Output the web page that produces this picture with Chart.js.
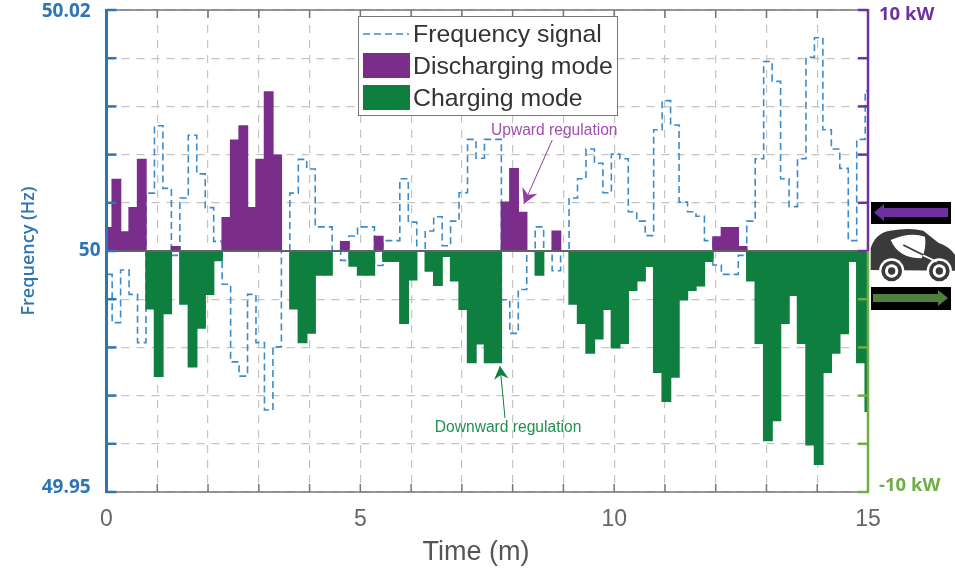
<!DOCTYPE html>
<html>
<head>
<meta charset="utf-8">
<title>Frequency regulation</title>
<script src="https://cdn.jsdelivr.net/npm/chart.js@4"></script>
<style>
  html, body { margin: 0; padding: 0; background: #fff; }
  canvas { display: block; }
</style>
</head>
<body>
<canvas id="myChart" width="955" height="569"></canvas>
<script>
// samples are 10 s apart, first one sits just right of zero
var firstSample = 0.028;
var sampleStep = 1 / 6;

// kW
var discharging = [
  0.97, 2.97, 0.79, 1.8, 3.8, 0, 0, 0, 0.18, 0,
  0, 0, 0, 0, 1.38, 4.6, 5.19, 1.8, 3.8, 6.6,
  3.98, 0, 0, 0, 0, 0, 0, 0, 0.39, 0,
  0, 0, 0.6, 0, 0, 0, 0, 0, 0, 0,
  0, 0, 0, 0, 0, 0, 0, 2.02, 3.42, 1.6,
  0, 0, 0, 0.82, 0, 0, 0, 0, 0, 0,
  0, 0, 0, 0, 0, 0, 0, 0, 0, 0,
  0, 0, 0.58, 0.97, 0.97, 0.18, 0, 0, 0, 0,
  0, 0, 0, 0, 0, 0, 0, 0, 0, 0,
  0
];

// kW
var charging = [
  0, 0, 0, 0, 0, -2.4, -5.2, -2.6, 0, -2.2,
  -4.8, -3.2, -1.8, -0.4, 0, 0, 0, 0, 0, 0,
  0, 0, -2.4, -3.8, -3.4, -1, -1, 0, 0, -0.62,
  -1, -1, 0, -0.43, -0.43, -3, -1.2, 0, -0.83, -1.42,
  -0.22, -1.24, -2.42, -4.63, -3.85, -4.63, -4.63, 0, 0, 0,
  0, -1, 0, 0, 0, -2.2, -3, -4.23, -3.64, -2.42,
  -4.02, -3.83, -1.63, -1.24, -0.64, -5.03, -6.24, -5.23, -2.03, -1.63,
  -1.44, -0.43, 0, 0, 0, 0, -1.24, -3.83, -7.86, -7.04,
  -3, -1.84, -3.83, -8.04, -8.85, -5.03, -4.23, -3.43, -0.43, -4.63,
  -6.65
];

// Hz
var frequency = [
  49.99806, 49.99406, 49.99842, 49.9964, 49.9924, 50.0048, 50.0104, 50.0052, 49.99964, 50.0044,
  50.0096, 50.0064, 50.0036, 50.0008, 49.99724, 49.9908, 49.98962, 49.9964, 49.9924, 49.9868,
  49.99204, 50, 50.0048, 50.0076, 50.0068, 50.002, 50.002, 50, 49.99922, 50.00124,
  50.002, 50.002, 49.9988, 50.00086, 50.00086, 50.006, 50.0024, 50, 50.00166, 50.00284,
  50.00044, 50.00248, 50.00484, 50.00926, 50.0077, 50.00926, 50.00926, 49.99596, 49.99316, 49.9968,
  50, 50.002, 50, 49.99836, 50, 50.0044, 50.006, 50.00846, 50.00728, 50.00484,
  50.00804, 50.00766, 50.00326, 50.00248, 50.00128, 50.01006, 50.01248, 50.01046, 50.00406, 50.00326,
  50.00288, 50.00086, 49.99884, 49.99806, 49.99806, 49.99964, 50.00248, 50.00766, 50.01572, 50.01408,
  50.006, 50.00368, 50.00766, 50.01608, 50.0177, 50.01006, 50.00846, 50.00686, 50.00086, 50.00926,
  50.0133
];

var seriesNames = ["Frequency signal", "Discharging mode", "Charging mode"];
var timeLabels = [0, 5, 10, 15];

var blue = "#2e75b6", signal = "#3b8bcb", purple = "#7b2d8b", green = "#0f7f3f", lime = "#70ad47";
var axisPurple = "#7030a0";

function xy(values) {
  return values.map(function (v, i) { return { x: firstSample + i * sampleStep, y: v }; });
}

function arrow(ctx, x0, y0, x1, y1, color, head) {
  var a = Math.atan2(y1 - y0, x1 - x0);
  ctx.strokeStyle = color;
  ctx.lineWidth = 1;
  ctx.beginPath();
  ctx.moveTo(x0, y0);
  ctx.lineTo(x1, y1);
  ctx.stroke();
  ctx.fillStyle = color;
  ctx.beginPath();
  ctx.moveTo(x1, y1);
  ctx.lineTo(x1 - head * Math.cos(a - 0.5), y1 - head * Math.sin(a - 0.5));
  ctx.lineTo(x1 - head * 0.6 * Math.cos(a), y1 - head * 0.6 * Math.sin(a));
  ctx.lineTo(x1 - head * Math.cos(a + 0.5), y1 - head * Math.sin(a + 0.5));
  ctx.closePath();
  ctx.fill();
}

// spines, inward ticks and the zero line
var framePlugin = {
  id: "frame",
  afterDatasetsDraw: function (chart) {
    var ctx = chart.ctx, area = chart.chartArea, s = chart.scales;
    var zero = s.y.getPixelForValue(0);
    ctx.save();
    ctx.strokeStyle = "#5f6368";
    ctx.lineWidth = 2;
    ctx.beginPath();
    ctx.moveTo(area.left, zero);
    ctx.lineTo(area.right, zero);
    ctx.stroke();

    ctx.strokeStyle = "#777";
    ctx.lineWidth = 1.5;
    ctx.beginPath();
    ctx.moveTo(area.left, area.top);
    ctx.lineTo(area.right, area.top);
    ctx.moveTo(area.left, area.bottom);
    ctx.lineTo(area.right, area.bottom);
    s.x.ticks.forEach(function (t) {
      var px = s.x.getPixelForValue(t.value);
      ctx.moveTo(px, area.top);
      ctx.lineTo(px, area.top + 8);
      ctx.moveTo(px, area.bottom);
      ctx.lineTo(px, area.bottom - 8);
    });
    ctx.stroke();

    s.y.ticks.forEach(function (t) {
      var py = s.y.getPixelForValue(t.value);
      ctx.lineWidth = 2.5;
      ctx.strokeStyle = blue;
      ctx.beginPath();
      ctx.moveTo(area.left, py);
      ctx.lineTo(area.left + 10, py);
      ctx.stroke();
      ctx.strokeStyle = t.value >= 0 ? axisPurple : lime;
      ctx.beginPath();
      ctx.moveTo(area.right, py);
      ctx.lineTo(area.right - 10, py);
      ctx.stroke();
    });

    ctx.lineWidth = 3;
    ctx.strokeStyle = blue;
    ctx.beginPath();
    ctx.moveTo(area.left, area.top - 1);
    ctx.lineTo(area.left, area.bottom + 1);
    ctx.stroke();
    ctx.lineWidth = 2.5;
    ctx.strokeStyle = axisPurple;
    ctx.beginPath();
    ctx.moveTo(area.right, area.top - 1);
    ctx.lineTo(area.right, zero);
    ctx.stroke();
    ctx.strokeStyle = lime;
    ctx.beginPath();
    ctx.moveTo(area.right, zero);
    ctx.lineTo(area.right, area.bottom + 1);
    ctx.stroke();
    ctx.restore();
  }
};

// the regulation notes, placed in time / kW
var notesPlugin = {
  id: "notes",
  afterDatasetsDraw: function (chart) {
    var ctx = chart.ctx, sx = chart.scales.x, sy = chart.scales.y;
    ctx.save();
    ctx.font = '15.6px "Liberation Sans"';
    ctx.textAlign = "center";
    ctx.textBaseline = "middle";
    ctx.fillStyle = "#a04fb0";
    ctx.fillText("Upward regulation", sx.getPixelForValue(8.82), sy.getPixelForValue(4.98));
    ctx.fillStyle = "#1f9050";
    ctx.fillText("Downward regulation", sx.getPixelForValue(7.91), sy.getPixelForValue(-7.34));
    arrow(ctx, sx.getPixelForValue(8.78), sy.getPixelForValue(4.6), sx.getPixelForValue(8.22), sy.getPixelForValue(1.95), "#8e3f9f", 17);
    arrow(ctx, sx.getPixelForValue(7.85), sy.getPixelForValue(-6.93), sx.getPixelForValue(7.75), sy.getPixelForValue(-4.77), green, 15);
    ctx.restore();
  }
};

// legend sits on top of the plot with a white box
var legendPlugin = {
  id: "boxLegend",
  afterDraw: function (chart) {
    var ctx = chart.ctx;
    ctx.save();
    ctx.fillStyle = "#fff";
    ctx.fillRect(358, 16, 260, 100);
    ctx.strokeStyle = "#777";
    ctx.lineWidth = 1;
    ctx.strokeRect(358.5, 16.5, 259, 99);
    ctx.strokeStyle = signal;
    ctx.lineWidth = 1.6;
    ctx.setLineDash([7, 4]);
    ctx.beginPath();
    ctx.moveTo(363, 34);
    ctx.lineTo(409, 34);
    ctx.stroke();
    ctx.setLineDash([]);
    ctx.fillStyle = purple;
    ctx.fillRect(363, 53, 47, 25);
    ctx.fillStyle = green;
    ctx.fillRect(363, 85, 47, 25);
    ctx.fillStyle = "#333";
    ctx.font = '24.8px "Liberation Sans"';
    ctx.textBaseline = "middle";
    ctx.fillText(seriesNames[0], 413, 35);
    ctx.fillText(seriesNames[1], 413, 67);
    ctx.fillText(seriesNames[2], 413, 99);
    ctx.restore();
  }
};

// car and the two power flow arrows right of the plot
var carPlugin = {
  id: "car",
  afterDraw: function (chart) {
    var ctx = chart.ctx;
    ctx.save();
    ctx.fillStyle = "#000";
    ctx.fillRect(871, 202, 80, 22);
    ctx.fillRect(871, 287, 80, 23);
    ctx.fillStyle = axisPurple;
    ctx.beginPath();
    ctx.moveTo(874, 212.5); ctx.lineTo(884, 204); ctx.lineTo(884, 208); ctx.lineTo(948, 208);
    ctx.lineTo(948, 217); ctx.lineTo(884, 217); ctx.lineTo(884, 221);
    ctx.closePath();
    ctx.fill();
    ctx.fillStyle = "#4f7f3c";
    ctx.beginPath();
    ctx.moveTo(948, 298); ctx.lineTo(938, 290); ctx.lineTo(938, 294); ctx.lineTo(873, 294);
    ctx.lineTo(873, 302); ctx.lineTo(938, 302); ctx.lineTo(938, 306);
    ctx.closePath();
    ctx.fill();

    ctx.translate(860, 190);
    ctx.scale(1 / 3, 1 / 3);
    ctx.fillStyle = "#3a3a3a";
    ctx.beginPath();
    ctx.moveTo(32, 240);
    ctx.lineTo(32, 175);
    ctx.quadraticCurveTo(45, 130, 90, 122);
    ctx.quadraticCurveTo(150, 112, 190, 122);
    ctx.lineTo(235, 158);
    ctx.quadraticCurveTo(270, 170, 285, 195);
    ctx.lineTo(285, 242);
    ctx.closePath();
    ctx.fill();
    [[95, 243], [238, 243]].forEach(function (w) {
      ctx.fillStyle = "#fff";
      ctx.beginPath(); ctx.arc(w[0], w[1], 38, 0, 7); ctx.fill();
      ctx.fillStyle = "#3a3a3a";
      ctx.beginPath(); ctx.arc(w[0], w[1], 31, 0, 7); ctx.fill();
      ctx.fillStyle = "#fff";
      ctx.beginPath(); ctx.arc(w[0], w[1], 20, 0, 7); ctx.fill();
      ctx.fillStyle = "#3a3a3a";
      ctx.beginPath(); ctx.arc(w[0], w[1], 11, 0, 7); ctx.fill();
    });
    ctx.fillStyle = "#fff";
    ctx.beginPath();
    ctx.moveTo(92, 150);
    ctx.quadraticCurveTo(150, 125, 195, 140);
    ctx.quadraticCurveTo(200, 175, 185, 205);
    ctx.quadraticCurveTo(115, 205, 92, 150);
    ctx.fill();
    ctx.strokeStyle = "#fff";
    ctx.lineWidth = 5;
    ctx.beginPath();
    ctx.moveTo(135, 170);
    ctx.lineTo(230, 215);
    ctx.stroke();
    ctx.strokeStyle = "#3a3a3a";
    ctx.beginPath();
    ctx.moveTo(130, 165);
    ctx.lineTo(190, 195);
    ctx.stroke();
    ctx.restore();
  }
};

// y labels at the ends sit a little inside the plot, a blank second line nudges them
function nudgedFont(size, top, bottom) {
  return function (c) {
    var v = c.tick ? c.tick.value : 0;
    var f = { family: '"Open Sans"', size: size, weight: "bold" };
    if (v === c.scale.max) f.lineHeight = top + "px";
    if (v === c.scale.min) f.lineHeight = bottom + "px";
    return f;
  };
}

new Chart(document.getElementById("myChart"), {
  type: "bar",
  data: {
    datasets: [
      {
        type: "line",
        label: seriesNames[0],
        data: xy(frequency),
        yAxisID: "yf",
        order: 3,
        stepped: "middle",
        borderColor: signal,
        borderWidth: 1.6,
        borderDash: [7, 4],
        pointRadius: 0,
        fill: false
      },
      {
        label: seriesNames[1],
        data: xy(discharging),
        yAxisID: "y",
        order: 2,
        grouped: false,
        backgroundColor: purple,
        inflateAmount: 0.7,
        barPercentage: 1,
        categoryPercentage: 1
      },
      {
        label: seriesNames[2],
        data: xy(charging),
        yAxisID: "y",
        order: 1,
        grouped: false,
        backgroundColor: green,
        inflateAmount: 0.7,
        barPercentage: 1,
        categoryPercentage: 1
      }
    ]
  },
  options: {
    responsive: false,
    animation: false,
    layout: { padding: { top: 10 } },
    plugins: { legend: { display: false }, tooltip: { enabled: false } },
    scales: {
      x: {
        type: "linear",
        min: 0,
        max: 15,
        offset: false,
        afterFit: function (scale) { scale.height = 77; scale.paddingLeft = 0; scale.paddingRight = 0; },
        grid: { color: "#c4c4c4", drawTicks: false, lineWidth: 1.2, offset: false },
        border: { display: false, dash: [8, 7] },
        ticks: {
          stepSize: 1,
          autoSkip: false,
          maxRotation: 0,
          padding: 14,
          color: "#666",
          font: { family: '"Liberation Sans"', size: 23 },
          callback: function (v) { return timeLabels.indexOf(v) >= 0 ? String(v) : ""; }
        },
        title: {
          display: true,
          text: "Time (m)   ",
          color: "#555",
          font: { family: '"Liberation Sans"', size: 27 },
          padding: { top: 2, bottom: 0 }
        }
      },
      yf: {
        position: "left",
        min: 49.98,
        max: 50.02,
        afterFit: function (scale) { scale.width = 106.5; scale.paddingTop = 0; scale.paddingBottom = 0; },
        grid: { display: false, drawTicks: false },
        border: { display: false },
        ticks: {
          stepSize: 0.004,
          autoSkip: false,
          padding: 6,
          color: blue,
          font: nudgedFont(19, 4, 8),
          callback: function (v) {
            if (Math.abs(v - 50.02) < 1e-6) return ["", "50.02  "];
            if (Math.abs(v - 50) < 1e-6) return "50";
            if (Math.abs(v - 49.98) < 1e-6) return ["49.95  ", ""];
            return "";
          }
        },
        title: {
          display: true,
          text: "Frequency (Hz)",
          color: blue,
          font: { family: '"Open Sans"', size: 18, weight: "600" },
          padding: { top: 18, bottom: 0 }
        }
      },
      y: {
        position: "right",
        min: -10,
        max: 10,
        afterFit: function (scale) { scale.width = 87; scale.paddingTop = 0; scale.paddingBottom = 0; },
        grid: { color: "#c4c4c4", drawTicks: false, lineWidth: 1.2 },
        border: { display: false, dash: [8, 7] },
        ticks: {
          stepSize: 2,
          autoSkip: false,
          padding: 11,
          color: function (c) { return c.tick && c.tick.value < 0 ? lime : axisPurple; },
          font: nudgedFont(18.5, 10, 12),
          callback: function (v) {
            if (v === 10) return ["", "10 kW"];
            if (v === -10) return ["-10 kW", ""];
            return "";
          }
        }
      }
    }
  },
  plugins: [framePlugin, notesPlugin, carPlugin, legendPlugin]
});
</script>
</body>
</html>
